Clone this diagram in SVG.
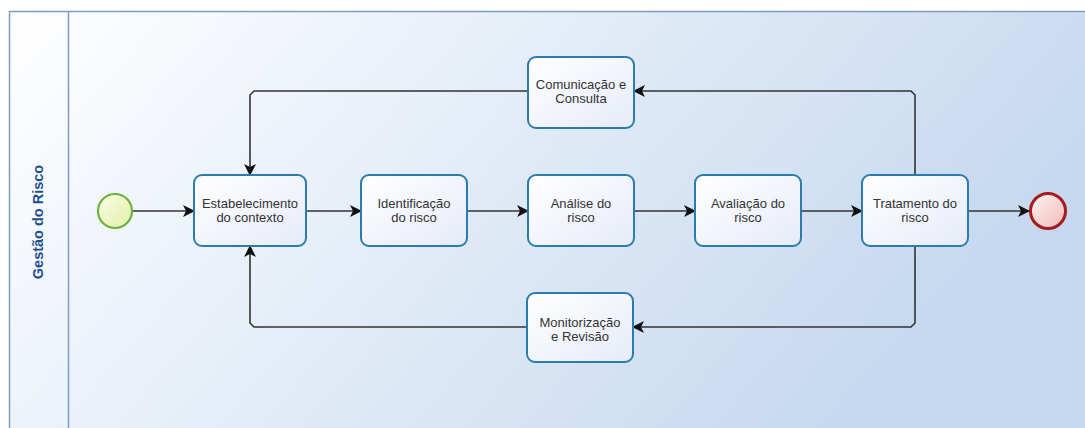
<svg xmlns="http://www.w3.org/2000/svg" width="1085" height="428" viewBox="0 0 1085 428">
<defs>
<linearGradient id="bg" x1="0" y1="0" x2="1" y2="0.35">
<stop offset="0" stop-color="#ffffff"/>
<stop offset="1" stop-color="#c5d8ef"/>
</linearGradient>
<linearGradient id="task" x1="0" y1="0" x2="1" y2="1">
<stop offset="0" stop-color="#ffffff"/>
<stop offset="1" stop-color="#e6ebf8"/>
</linearGradient>
<linearGradient id="startG" x1="0" y1="0" x2="1" y2="1">
<stop offset="0" stop-color="#fbfde6"/>
<stop offset="1" stop-color="#e2f0a8"/>
</linearGradient>
<linearGradient id="endG" x1="0" y1="0" x2="1" y2="1">
<stop offset="0" stop-color="#fff5f5"/>
<stop offset="1" stop-color="#f0b8b8"/>
</linearGradient>
<marker id="arr" markerWidth="12" markerHeight="12" refX="11" refY="6" orient="auto" markerUnits="userSpaceOnUse">
<path d="M0,0 L12,6 L0,12 L3,6 Z" fill="#111"/>
</marker>
</defs>
<style>
.task{fill:url(#task);stroke:#2b7cad;stroke-width:2}
.lbl{font-family:"Liberation Sans",Arial,sans-serif;font-size:13px;fill:#333;text-anchor:middle}
.conn{fill:none;stroke:#333;stroke-width:1.6}
</style>
<rect x="0" y="0" width="1085" height="428" fill="#ffffff"/>
<g id="pool">
<rect x="9.5" y="11.5" width="1090" height="430" fill="url(#bg)" stroke="#7d9cc4" stroke-width="1.5"/>
<line x1="68.5" y1="11.5" x2="68.5" y2="430" stroke="#7d9cc4" stroke-width="1.5"/>
<text transform="translate(42.5,222) rotate(-90)" font-family="'Liberation Sans',Arial,sans-serif" font-size="14.5" font-weight="bold" fill="#1f4f8f" text-anchor="middle">Gestão do Risco</text>
</g>
<g id="connectors">
<line class="conn" x1="133" y1="211" x2="194" y2="211" marker-end="url(#arr)"/>
<line class="conn" x1="306" y1="211" x2="361" y2="211" marker-end="url(#arr)"/>
<line class="conn" x1="467" y1="211" x2="528" y2="211" marker-end="url(#arr)"/>
<line class="conn" x1="634" y1="211" x2="695" y2="211" marker-end="url(#arr)"/>
<line class="conn" x1="801" y1="211" x2="862" y2="211" marker-end="url(#arr)"/>
<line class="conn" x1="968" y1="211" x2="1029" y2="211" marker-end="url(#arr)"/>
<path class="conn" d="M915,175 L915,95 L911,91 L634,91" marker-end="url(#arr)"/>
<path class="conn" d="M528,91 L254,91 L250,95 L250,175" marker-end="url(#arr)"/>
<path class="conn" d="M915,246 L915,323 L911,327 L633,327" marker-end="url(#arr)"/>
<path class="conn" d="M527,327 L254,327 L250,323 L250,246" marker-end="url(#arr)"/>
</g>
<g id="start">
<circle cx="115" cy="211" r="17" fill="url(#startG)" stroke="#6db33f" stroke-width="2.2"/>
</g>
<g id="end">
<circle cx="1048" cy="211" r="17.5" fill="url(#endG)" stroke="#a61c1c" stroke-width="3"/>
</g>
<g id="estabelecimento">
<rect class="task" x="194" y="175" width="112" height="71" rx="8"/>
<text class="lbl" x="250" y="208">Estabelecimento</text>
<text class="lbl" x="250" y="222">do contexto</text>
</g>
<g id="identificacao">
<rect class="task" x="361" y="175" width="106" height="71" rx="8"/>
<text class="lbl" x="414" y="208">Identificação</text>
<text class="lbl" x="414" y="222">do risco</text>
</g>
<g id="analise">
<rect class="task" x="528" y="175" width="106" height="71" rx="8"/>
<text class="lbl" x="581" y="208">Análise do</text>
<text class="lbl" x="581" y="222">risco</text>
</g>
<g id="avaliacao">
<rect class="task" x="695" y="175" width="106" height="71" rx="8"/>
<text class="lbl" x="748" y="208">Avaliação do</text>
<text class="lbl" x="748" y="222">risco</text>
</g>
<g id="tratamento">
<rect class="task" x="862" y="175" width="106" height="71" rx="8"/>
<text class="lbl" x="915" y="208">Tratamento do</text>
<text class="lbl" x="915" y="222">risco</text>
</g>
<g id="comunicacao">
<rect class="task" x="528" y="57" width="106" height="71" rx="8"/>
<text class="lbl" x="581" y="89">Comunicação e</text>
<text class="lbl" x="581" y="103">Consulta</text>
</g>
<g id="monitorizacao">
<rect class="task" x="527" y="293" width="106" height="69" rx="8"/>
<text class="lbl" x="580" y="327">Monitorização</text>
<text class="lbl" x="580" y="341">e Revisão</text>
</g>
</svg>
